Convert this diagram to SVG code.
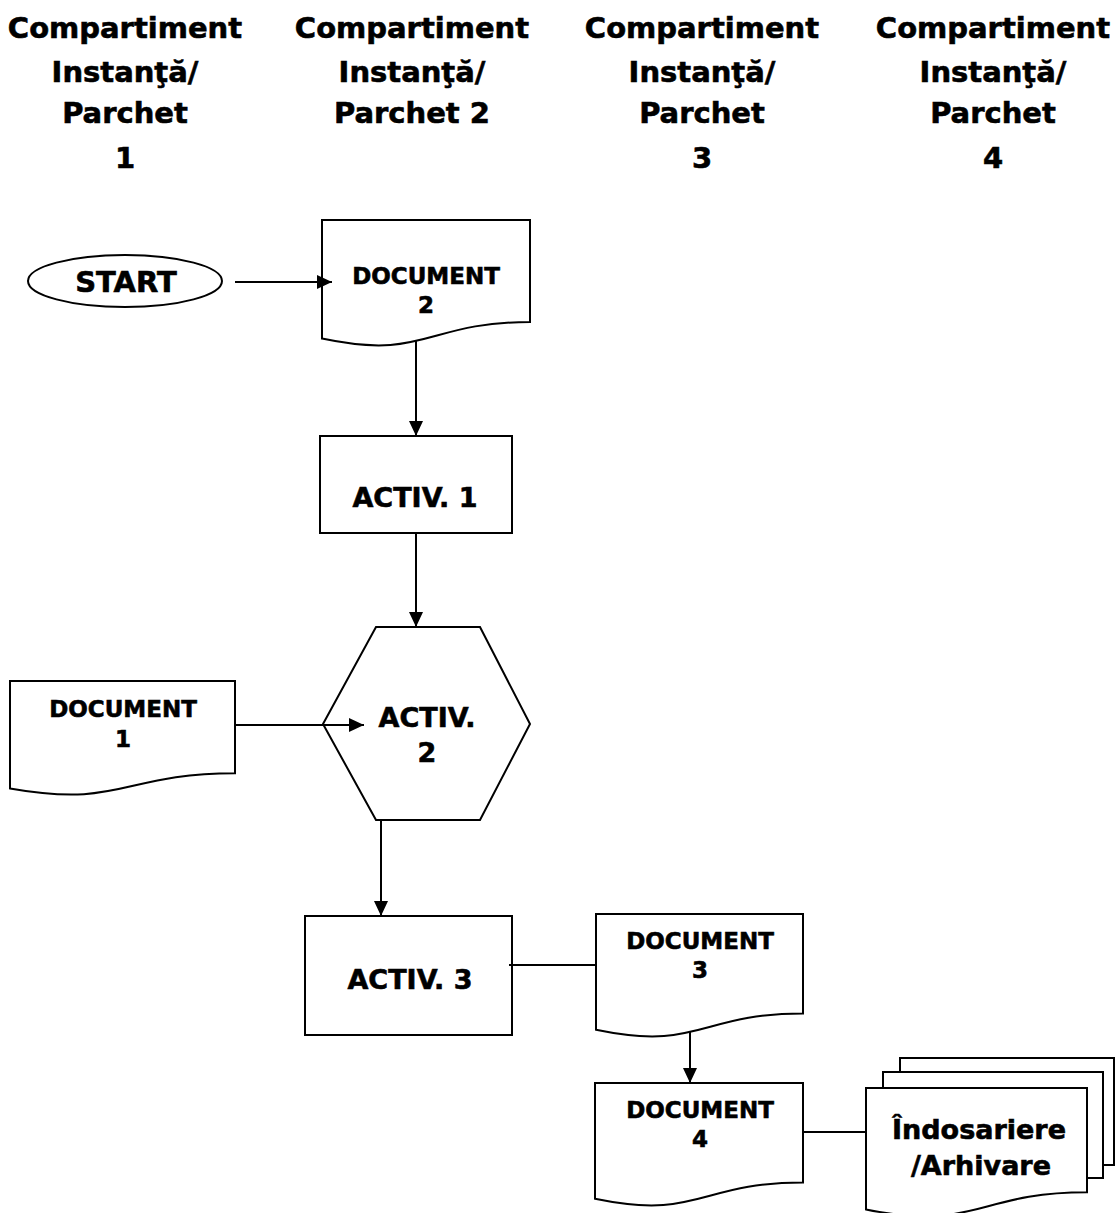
<svg xmlns="http://www.w3.org/2000/svg" width="1115" height="1213" viewBox="0 0 1115 1213">
  <style>
    text { font-family: "DejaVu Sans", Verdana, "Liberation Sans", sans-serif; font-weight: bold; fill: #000; stroke: #000; stroke-width: 0.6; text-anchor: middle; }
    .hdr { font-size: 29px; }
    .lbl { font-size: 27px; }
    .big { font-size: 29px; }
    .doc { font-size: 23px; }
    .shape { fill: #fff; stroke: #000; stroke-width: 2; }
    .edge { fill: none; stroke: #000; stroke-width: 2; }
  </style>
  <defs>
    <marker id="arrow" markerUnits="userSpaceOnUse" markerWidth="15" markerHeight="14" viewBox="0 0 15 14" refX="15" refY="7" orient="auto">
      <path d="M0,0 L15,7 L0,14 Z" fill="#000"/>
    </marker>
  </defs>
  <rect width="1115" height="1213" fill="#fff"/>

  <!-- Column headings -->
  <g id="header-1">
    <text class="hdr" x="125" y="38">Compartiment</text>
    <text class="hdr" x="125" y="82">Instanţă/</text>
    <text class="hdr" x="125" y="123">Parchet</text>
    <text class="hdr" x="125" y="168">1</text>
  </g>
  <g id="header-2">
    <text class="hdr" x="412" y="38">Compartiment</text>
    <text class="hdr" x="412" y="82">Instanţă/</text>
    <text class="hdr" x="412" y="123">Parchet 2</text>
  </g>
  <g id="header-3">
    <text class="hdr" x="702" y="38">Compartiment</text>
    <text class="hdr" x="702" y="82">Instanţă/</text>
    <text class="hdr" x="702" y="123">Parchet</text>
    <text class="hdr" x="702" y="168">3</text>
  </g>
  <g id="header-4">
    <text class="hdr" x="993" y="38">Compartiment</text>
    <text class="hdr" x="993" y="82">Instanţă/</text>
    <text class="hdr" x="993" y="123">Parchet</text>
    <text class="hdr" x="993" y="168">4</text>
  </g>

  <!-- Flow nodes -->
  <g id="start">
    <ellipse class="shape" cx="125" cy="281" rx="97" ry="26"/>
    <text class="big" x="126" y="292">START</text>
  </g>

  <g id="document-2">
    <path class="shape" d="M322 220 H530 V322 C426 322 426 360.7 322 338.6 Z"/>
    <text class="doc" x="426" y="284">DOCUMENT</text>
    <text class="doc" x="426" y="313">2</text>
  </g>

  <g id="activ-1">
    <rect class="shape" x="320" y="436" width="192" height="97"/>
    <text class="lbl" x="415" y="507">ACTIV. 1</text>
  </g>

  <g id="activ-2">
    <polygon class="shape" points="376,627 480,627 530,724 480,820 376,820 323,724"/>
    <text class="lbl" x="427" y="727">ACTIV.</text>
    <text class="lbl" x="427" y="762">2</text>
  </g>

  <g id="document-1">
    <path class="shape" d="M10 681 H235 V773.2 C122.5 773.2 122.5 808.4 10 788.4 Z"/>
    <text class="doc" x="123" y="717">DOCUMENT</text>
    <text class="doc" x="123" y="747">1</text>
  </g>

  <g id="activ-3">
    <rect class="shape" x="305" y="916" width="207" height="119"/>
    <text class="lbl" x="410" y="989">ACTIV. 3</text>
  </g>

  <g id="document-3">
    <path class="shape" d="M596 914 H803 V1013.4 C699.5 1013.4 699.5 1051.3 596 1029.8 Z"/>
    <text class="doc" x="700" y="949">DOCUMENT</text>
    <text class="doc" x="700" y="978">3</text>
  </g>

  <g id="document-4">
    <path class="shape" d="M595 1083 H803 V1182.4 C699 1182.4 699 1220.3 595 1198.8 Z"/>
    <text class="doc" x="700" y="1118">DOCUMENT</text>
    <text class="doc" x="700" y="1147">4</text>
  </g>

  <g id="arhivare">
    <path class="shape" d="M900 1075 V1058 H1114 V1165 H1100"/>
    <path class="shape" d="M883 1090 V1072 H1103 V1178 H1085"/>
    <path class="shape" d="M866 1088 H1087 V1192.3 C976.5 1192.3 976.5 1232 866 1209.4 Z"/>
    <text class="lbl" x="979" y="1139">Îndosariere</text>
    <text class="lbl" x="981" y="1175">/Arhivare</text>
  </g>

  <!-- Connectors -->
  <g id="connectors">
    <line class="edge" x1="235" y1="282" x2="332" y2="282" marker-end="url(#arrow)"/>
    <line class="edge" x1="416" y1="340" x2="416" y2="436" marker-end="url(#arrow)"/>
    <line class="edge" x1="416" y1="533" x2="416" y2="627" marker-end="url(#arrow)"/>
    <line class="edge" x1="235" y1="725" x2="364" y2="725" marker-end="url(#arrow)"/>
    <line class="edge" x1="381" y1="820" x2="381" y2="916" marker-end="url(#arrow)"/>
    <line class="edge" x1="509" y1="965" x2="596" y2="965"/>
    <line class="edge" x1="690" y1="1032" x2="690" y2="1083" marker-end="url(#arrow)"/>
    <line class="edge" x1="803" y1="1132" x2="866" y2="1132"/>
  </g>
</svg>
